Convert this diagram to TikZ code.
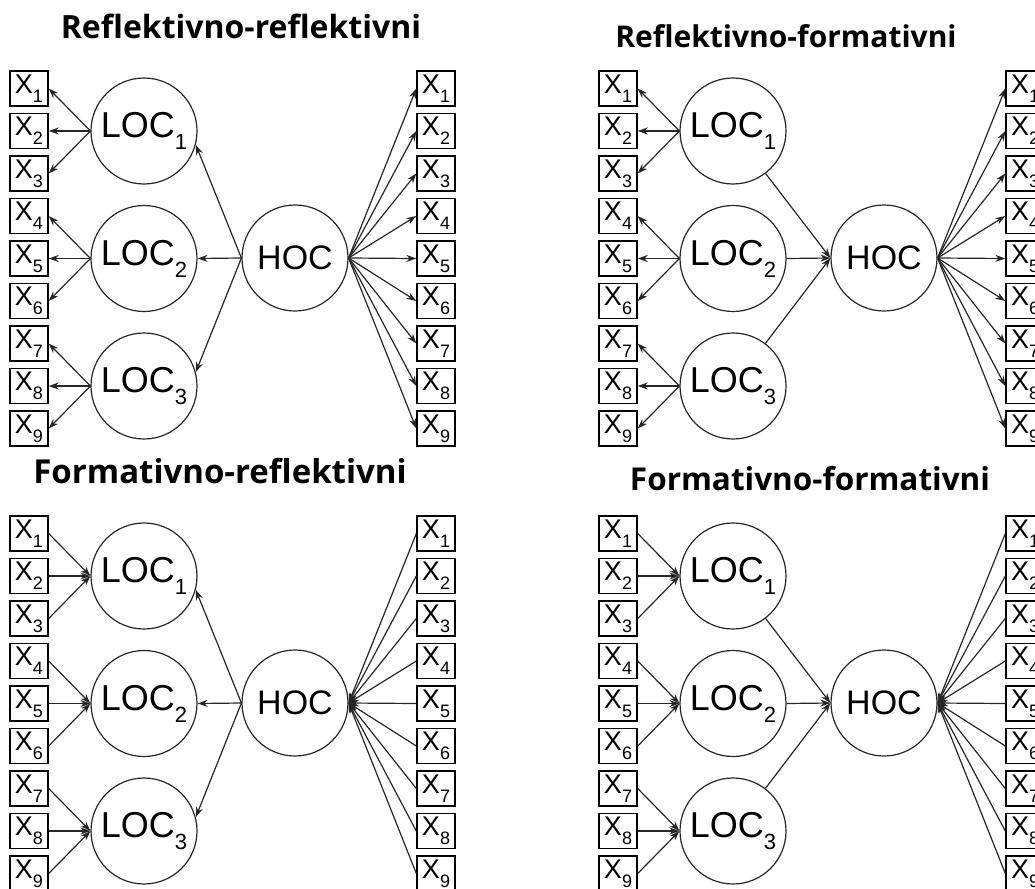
\documentclass[tikz,border=0pt]{standalone}
\usepackage{fontspec}
\setmainfont{Liberation Sans}
\newfontfamily\titlefont{Open Sans}
\usetikzlibrary{arrows.meta}
\newcommand\xlab[1]{{\fontsize{27}{27}\selectfont X}\raisebox{-9pt}{\fontsize{18}{18}\selectfont #1}}
\newcommand\loclab[1]{{\fontsize{36}{36}\selectfont LOC}\raisebox{-12pt}{\fontsize{22}{22}\selectfont #1}}
\newcommand\hoclab{{\fontsize{34}{34}\selectfont HOC}}
\newcommand\ttlsize[1]{\fontsize{#1}{#1}\selectfont}
\tikzset{
  ind/.style={draw=black, line width=1.4pt, minimum width=38pt, minimum height=35pt, inner sep=0pt},
  lat/.style={draw=black!85, circle, line width=1.2pt, minimum size=106pt, inner sep=0pt},
  arr/.style={-{Stealth[length=10pt,width=7pt]}, line width=1.2pt, draw=black!85},
  ttl/.style={font=\titlefont\bfseries, anchor=base}
}
\begin{document}
\begin{tikzpicture}[x=1pt,y=-1pt]
\useasboundingbox (0,0) rectangle (1035,888);
% ---------- titles
\node[ttl] (ta) at (241,39) {\ttlsize{32}Reflektivno-reflektivni};
\node[ttl] (tb) at (786,48) {\ttlsize{30}Reflektivno-formativni};
\node[ttl] (tc) at (220,483) {\ttlsize{33}Formativno-reflektivni};
\node[ttl] (td) at (810,490) {\ttlsize{31.5}Formativno-formativni};
% ---------- nodes of the four panels
\foreach \p/\dx/\dy in {a/0/0, b/589/0, c/0/445, d/589/445} {
  \begin{scope}[shift={(\dx,\dy)}]
    \foreach \i in {1,...,9} {
      \node[ind] (\p-l\i) at (29,{88.5+42.5*(\i-1)}) {\xlab{\i}};
      \node[ind] (\p-r\i) at (436,{88.5+42.5*(\i-1)}) {\xlab{\i}};
    }
    \node[lat] (\p-loc1) at (144,131) {\loclab{1}};
    \node[lat] (\p-loc2) at (144,258.5) {\loclab{2}};
    \node[lat] (\p-loc3) at (144,386) {\loclab{3}};
    \node[lat] (\p-hoc) at (295,258) {\hoclab};
  \end{scope}
}
% ---------- left indicators: reflective (a, b), formative (c, d)
\foreach \p in {a,b} {
  \foreach \i/\j in {1/1,2/1,3/1,4/2,5/2,6/2,7/3,8/3,9/3}
    \draw[arr] (\p-loc\j.west) -- (\p-l\i.east);
}
\foreach \p in {c,d} {
  \foreach \i/\j in {1/1,2/1,3/1,4/2,5/2,6/2,7/3,8/3,9/3}
    \draw[arr] (\p-l\i.east) -- (\p-loc\j.west);
}
% ---------- right indicators: reflective (a, b), formative (c, d)
\foreach \p in {a,b} {
  \foreach \i in {1,...,9}
    \draw[arr] (\p-hoc.east) -- (\p-r\i.west);
}
\foreach \p in {c,d} {
  \foreach \i in {1,...,9}
    \draw[arr] (\p-r\i.west) -- (\p-hoc.east);
}
% ---------- HOC - LOC: reflective (a, c), formative (b, d)
\foreach \p in {a,c} {
  \draw[arr] (\p-hoc.west) -- (\p-loc1.-15);
  \draw[arr] (\p-hoc.west) -- (\p-loc2.east);
  \draw[arr] (\p-hoc.west) -- (\p-loc3.15);
}
\foreach \p in {b,d} {
  \draw[arr] (\p-loc1) -- (\p-hoc.west);
  \draw[arr] (\p-loc2.east) -- (\p-hoc.west);
  \draw[arr] (\p-loc3) -- (\p-hoc.west);
}
\end{tikzpicture}
\end{document}
